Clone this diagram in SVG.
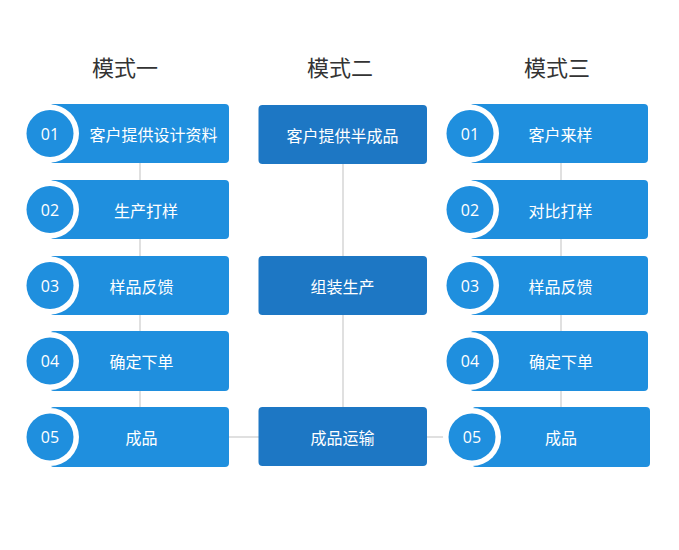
<svg xmlns="http://www.w3.org/2000/svg" width="679" height="550" viewBox="0 0 679 550">
<style>
.t{font-family:"Noto Sans CJK SC","Liberation Sans",sans-serif;fill:#333;font-size:22px;text-anchor:middle}
.b{fill:#1f8fde}
.m{fill:#1d77c4}
.ring{fill:#fff}
.lbl{font-family:"Noto Sans CJK SC","Liberation Sans",sans-serif;fill:#fff;font-size:16px;text-anchor:middle;dominant-baseline:central}
.num{font-family:"Open Sans","Liberation Sans",sans-serif;fill:#fff;font-size:16px;text-anchor:middle;dominant-baseline:central}
.c{stroke:#cccccc;stroke-width:1.2;fill:none}
</style>
<rect width="679" height="550" fill="#fff"/>
<g id="connectors">
<line class="c" x1="140" y1="133" x2="140" y2="437"/>
<line class="c" x1="343" y1="134" x2="343" y2="437"/>
<line class="c" x1="561" y1="133" x2="561" y2="437"/>
<line class="c" x1="229" y1="437" x2="259" y2="437"/>
<line class="c" x1="427" y1="437" x2="448" y2="437"/>
</g>
<g id="titles">
<text class="t" x="125" y="76">模式一</text>
<text class="t" x="340" y="76">模式二</text>
<text class="t" x="557" y="76">模式三</text>
</g>
<g id="l1"><rect class="b" x="50" y="104" width="179" height="59" rx="4"/><circle class="ring" cx="50" cy="133.5" r="29"/><circle class="b" cx="50" cy="133.5" r="23.5"/><text class="num" x="50" y="133.5">01</text><text class="lbl" x="153.5" y="133.5">客户提供设计资料</text></g>
<g id="l2"><rect class="b" x="50" y="180" width="179" height="59" rx="4"/><circle class="ring" cx="50" cy="209.5" r="29"/><circle class="b" cx="50" cy="209.5" r="23.5"/><text class="num" x="50" y="209.5">02</text><text class="lbl" x="146" y="209.5">生产打样</text></g>
<g id="l3"><rect class="b" x="50" y="256" width="179" height="59" rx="4"/><circle class="ring" cx="50" cy="285.5" r="29"/><circle class="b" cx="50" cy="285.5" r="23.5"/><text class="num" x="50" y="285.5">03</text><text class="lbl" x="141.5" y="285.5">样品反馈</text></g>
<g id="l4"><rect class="b" x="50" y="331" width="179" height="60" rx="4"/><circle class="ring" cx="50" cy="361" r="29"/><circle class="b" cx="50" cy="361" r="23.5"/><text class="num" x="50" y="361">04</text><text class="lbl" x="141.5" y="361">确定下单</text></g>
<g id="l5"><rect class="b" x="50" y="407" width="179" height="60" rx="4"/><circle class="ring" cx="50" cy="437" r="29"/><circle class="b" cx="50" cy="437" r="23.5"/><text class="num" x="50" y="437">05</text><text class="lbl" x="141.5" y="437">成品</text></g>
<g id="m1"><rect class="m" x="258.5" y="105" width="168.5" height="59" rx="4"/><text class="lbl" x="342.5" y="134.5">客户提供半成品</text></g>
<g id="m2"><rect class="m" x="258.5" y="256" width="168.5" height="59" rx="4"/><text class="lbl" x="342.5" y="285.5">组装生产</text></g>
<g id="m3"><rect class="m" x="258.5" y="407" width="168.5" height="59" rx="4"/><text class="lbl" x="342.5" y="436.5">成品运输</text></g>
<g id="r1"><rect class="b" x="470" y="104" width="178" height="59" rx="4"/><circle class="ring" cx="470" cy="133.5" r="29"/><circle class="b" cx="470" cy="133.5" r="23.5"/><text class="num" x="470" y="133.5">01</text><text class="lbl" x="560.5" y="133.5">客户来样</text></g>
<g id="r2"><rect class="b" x="470" y="180" width="178" height="59" rx="4"/><circle class="ring" cx="470" cy="209.5" r="29"/><circle class="b" cx="470" cy="209.5" r="23.5"/><text class="num" x="470" y="209.5">02</text><text class="lbl" x="560.5" y="209.5">对比打样</text></g>
<g id="r3"><rect class="b" x="470" y="256" width="178" height="59" rx="4"/><circle class="ring" cx="470" cy="285.5" r="29"/><circle class="b" cx="470" cy="285.5" r="23.5"/><text class="num" x="470" y="285.5">03</text><text class="lbl" x="560.5" y="285.5">样品反馈</text></g>
<g id="r4"><rect class="b" x="470" y="331" width="178" height="60" rx="4"/><circle class="ring" cx="470" cy="361" r="29"/><circle class="b" cx="470" cy="361" r="23.5"/><text class="num" x="470" y="361">04</text><text class="lbl" x="561" y="361">确定下单</text></g>
<g id="r5"><rect class="b" x="472" y="407" width="178" height="60" rx="4"/><circle class="ring" cx="472" cy="437" r="29"/><circle class="b" cx="472" cy="437" r="23.5"/><text class="num" x="472" y="437">05</text><text class="lbl" x="561" y="437">成品</text></g>
</svg>
